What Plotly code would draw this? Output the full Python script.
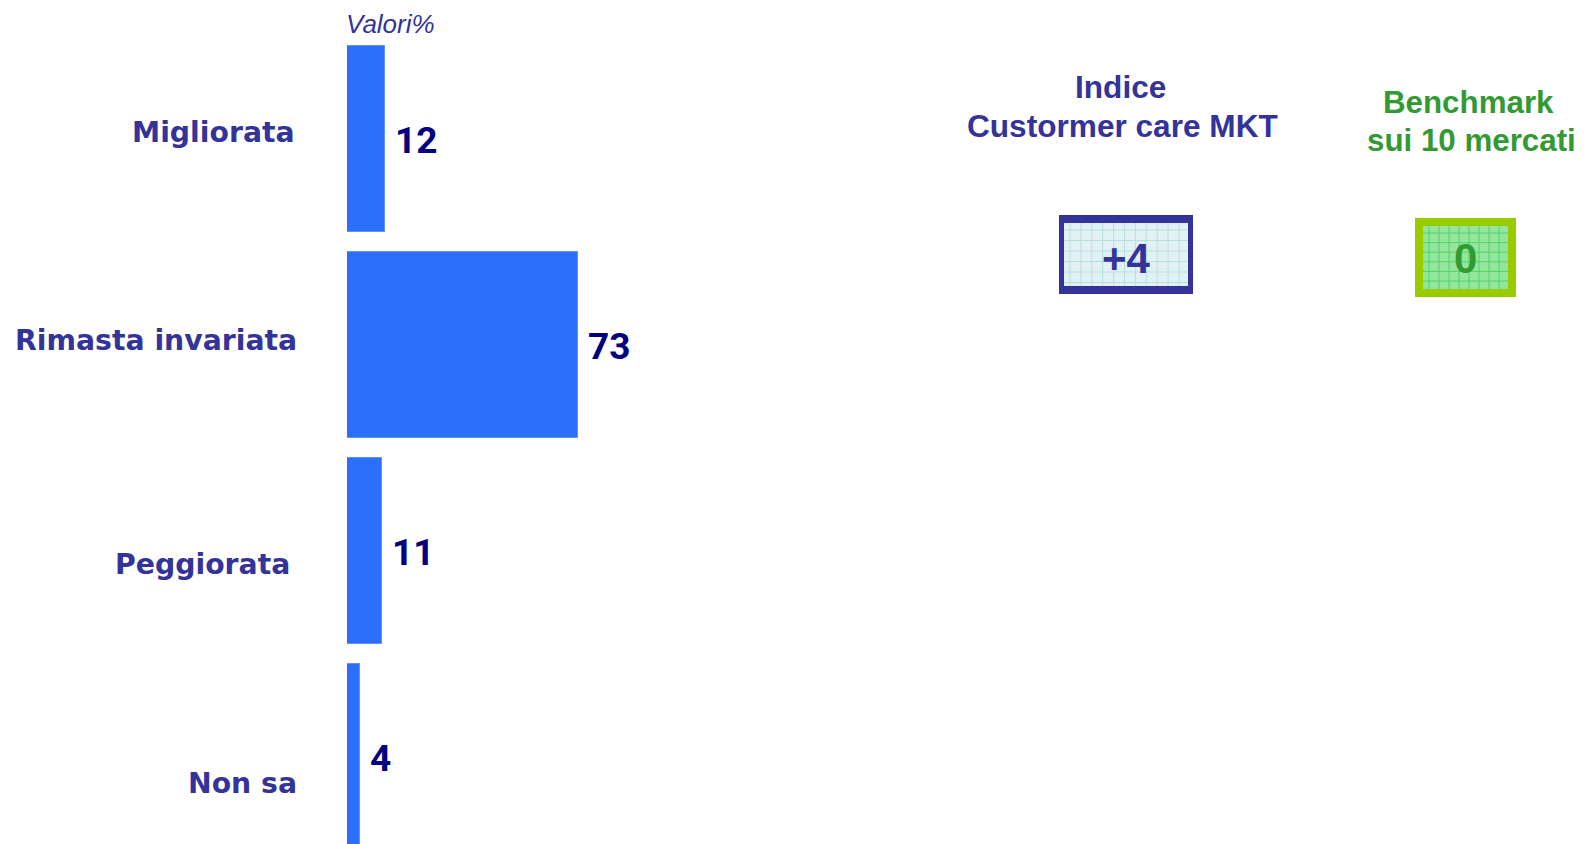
import plotly.graph_objects as go

# ---------------- data ----------------
categories = ["Migliorata", "Rimasta invariata", "Peggiorata", "Non sa"]
values = [12, 73, 11, 4]
value_labels = ["12", "73", "11", "4"]
unit_label = "Valori%"

index_title = ["Indice", "Custormer care MKT"]
index_value = "+4"
bench_title = ["Benchmark", "sui 10 mercati"]
bench_value = "0"

# ---------------- layout helpers ----------------
W, H = 1584, 844
def px(x):
    return x / W
def py(y):
    return 1 - y / H

label_yshift = [7, 5, -13, -26]
label_right = [297, 299, 292, 299]

BAR = "#2b6ffb"
NAVY = "#000080"
PURPLE = "#333399"
GREEN = "#339933"

fig = go.Figure()
fig.add_trace(go.Bar(
    x=values, y=categories, orientation="h",
    width=0.903,
    marker=dict(color=BAR, line=dict(color="#5f93fc", width=1)),
    hoverinfo="skip", showlegend=False,
))

annotations = []
# value labels
for c, v, t in zip(categories, values, value_labels):
    annotations.append(dict(
        x=v, y=c, xref="x", yref="y", text=t, showarrow=False,
        xanchor="left", yanchor="middle", xshift=8, yshift=-1,
        font=dict(family="Roboto", size=37, color=NAVY, weight="bold"),
    ))
# category labels
for c, ys, xr in zip(categories, label_yshift, label_right):
    annotations.append(dict(
        x=px(xr), y=c, xref="paper", yref="y", text=c, showarrow=False,
        xanchor="right", yanchor="middle", yshift=ys,
        font=dict(family="DejaVu Sans", size=28.3, color=PURPLE, weight="bold"),
    ))
# unit label
annotations.append(dict(
    x=px(344), y=py(24.5), xref="paper", yref="paper", text="<i>" + unit_label + "</i>",
    showarrow=False, xanchor="left", yanchor="middle",
    font=dict(family="Liberation Sans", size=26, color=PURPLE),
))
# right-side titles
for t, (cx, cy) in zip(index_title, [(1120, 87.5), (1122, 126)]):
    annotations.append(dict(
        x=px(cx), y=py(cy), xref="paper", yref="paper", text=t, showarrow=False,
        xanchor="center", yanchor="middle",
        font=dict(family="Liberation Sans", size=31.6, color=PURPLE, weight="bold"),
    ))
for t, (cx, cy) in zip(bench_title, [(1468, 102.5), (1471.5, 141)]):
    annotations.append(dict(
        x=px(cx), y=py(cy), xref="paper", yref="paper", text=t, showarrow=False,
        xanchor="center", yanchor="middle",
        font=dict(family="Liberation Sans", size=31.3, color=GREEN, weight="bold"),
    ))

shapes = []
def rect(x0, y0, x1, y1, fill, line_color=None, lw=0):
    shapes.append(dict(
        type="rect", xref="paper", yref="paper",
        x0=px(x0), x1=px(x1), y0=py(y1), y1=py(y0),
        fillcolor=fill, line=dict(width=lw, color=line_color or fill), layer="above",
    ))
def hline(x0, x1, y, color):
    shapes.append(dict(type="line", xref="paper", yref="paper",
                       x0=px(x0), x1=px(x1), y0=py(y), y1=py(y),
                       line=dict(color=color, width=1), layer="above"))
def vline(x, y0, y1, color):
    shapes.append(dict(type="line", xref="paper", yref="paper",
                       x0=px(x), x1=px(x), y0=py(y0), y1=py(y1),
                       line=dict(color=color, width=1), layer="above"))

# index box (blue)
rect(1059, 215, 1193, 294, PURPLE)
rect(1064, 223, 1188, 286, "#e2f1f3")
gx = 1064 + 6
while gx < 1188:
    vline(gx, 223, 286, "#b9dede")
    gx += 10.9
gy = 223 + 7
while gy < 286:
    hline(1064, 1188, gy, "#b9dede")
    gy += 10.5

# benchmark box (green)
rect(1415, 218, 1516, 297, "#99cc00")
rect(1423, 226, 1508, 289, "#94e59e")
gx = 1423 + 6
while gx < 1508:
    vline(gx, 226, 289, "#52d464")
    gx += 10
gy = 226 + 7
while gy < 289:
    hline(1423, 1508, gy, "#52d464")
    gy += 9.6

annotations.append(dict(
    x=px(1126), y=py(259), xref="paper", yref="paper", text=index_value, showarrow=False,
    xanchor="center", yanchor="middle",
    font=dict(family="Liberation Sans", size=42, color=PURPLE, weight="bold"),
))
annotations.append(dict(
    x=px(1465), y=py(259), xref="paper", yref="paper", text=bench_value, showarrow=False,
    xanchor="center", yanchor="middle",
    font=dict(family="Liberation Sans", size=42, color=GREEN, weight="bold"),
))

scale = 3.17  # px per unit
fig.update_layout(
    width=W, height=H,
    margin=dict(l=0, r=0, t=0, b=0),
    paper_bgcolor="white", plot_bgcolor="white",
    xaxis=dict(domain=[px(347), 1.0], range=[0, (W - 347) / scale],
               showgrid=False, zeroline=False, showticklabels=False, showline=False),
    yaxis=dict(type="category", categoryorder="array", categoryarray=categories,
               range=[(H - 139) / 206, -139 / 206],
               showgrid=False, zeroline=False, showticklabels=False, showline=False),
    annotations=annotations,
    shapes=shapes,
    bargap=0,
)

fig.write_html("out.html")
